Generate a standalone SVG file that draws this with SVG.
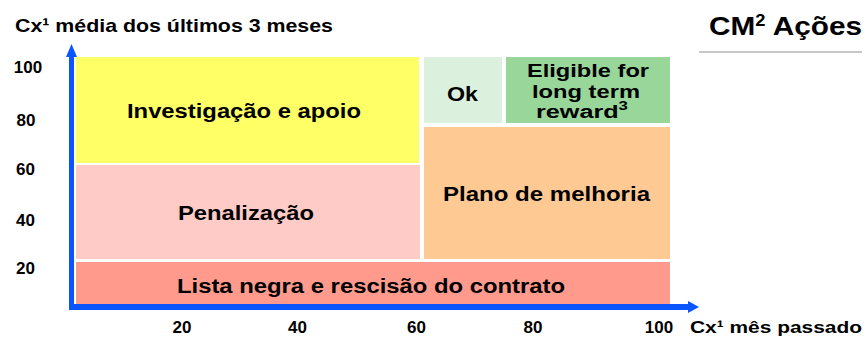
<svg xmlns="http://www.w3.org/2000/svg" width="867" height="338" viewBox="0 0 867 338">
  <style>
    text { font-family: "Liberation Sans", Arial, sans-serif; font-weight: bold; fill: #000; }
    .lbl { font-size: 20px; text-anchor: middle; }
    .elig { font-size: 18px; text-anchor: middle; }
    .tick { font-size: 17px; text-anchor: middle; }
    .axis { fill: #0a55ff; }
  </style>
  <rect width="867" height="338" fill="#fff"/>

  <text x="15" y="32" font-size="18.5" textLength="318" lengthAdjust="spacingAndGlyphs">Cx¹ média dos últimos 3 meses</text>
  <text x="709" y="35" font-size="26" textLength="153" lengthAdjust="spacingAndGlyphs">CM<tspan font-size="16" dy="-9">2</tspan><tspan dy="9"> Ações</tspan></text>
  <line x1="699" y1="52" x2="862" y2="52" stroke="#c8c8c8" stroke-width="2"/>

  <g id="zone-investigacao">
    <rect x="76" y="57" width="343" height="106" fill="#ffff66"/>
    <text class="lbl" x="244" y="118" textLength="234" lengthAdjust="spacingAndGlyphs">Investigação e apoio</text>
  </g>
  <g id="zone-penalizacao">
    <rect x="76" y="165" width="344" height="94" fill="#ffcbc6"/>
    <text class="lbl" x="246" y="220" textLength="136" lengthAdjust="spacingAndGlyphs">Penalização</text>
  </g>
  <g id="zone-lista-negra">
    <rect x="76" y="262" width="594" height="42" fill="#ff9a8c"/>
    <text class="lbl" x="371" y="293" font-size="22" textLength="388" lengthAdjust="spacingAndGlyphs">Lista negra e rescisão do contrato</text>
  </g>
  <g id="zone-ok">
    <rect x="424" y="57" width="78" height="66" fill="#dbf0dd"/>
    <text class="lbl" x="462.5" y="100.5" font-size="21" textLength="31" lengthAdjust="spacingAndGlyphs">Ok</text>
  </g>
  <g id="zone-eligible">
    <rect x="506" y="57" width="164" height="66" fill="#99d699"/>
    <text class="elig" x="588" y="77" textLength="122" lengthAdjust="spacingAndGlyphs">Eligible for</text>
    <text class="elig" x="586" y="97.5" textLength="108" lengthAdjust="spacingAndGlyphs">long term</text>
    <text class="elig" x="582" y="118" textLength="92" lengthAdjust="spacingAndGlyphs">reward<tspan font-size="12" dy="-8">3</tspan></text>
  </g>
  <g id="zone-plano">
    <rect x="424" y="127" width="246" height="132" fill="#ffc993"/>
    <text class="lbl" x="546.5" y="201" textLength="207" lengthAdjust="spacingAndGlyphs">Plano de melhoria</text>
  </g>

  <g id="axes">
    <rect class="axis" x="69" y="54" width="5" height="256"/>
    <polygon class="axis" points="66,57 71.5,44 77,57"/>
    <rect class="axis" x="69" y="304" width="620" height="6"/>
    <polygon class="axis" points="688,301 699,307 688,313"/>
  </g>

  <g id="y-ticks">
    <text class="tick" x="28" y="72.5">100</text>
    <text class="tick" x="26" y="126">80</text>
    <text class="tick" x="25.5" y="175">60</text>
    <text class="tick" x="25.5" y="225.5">40</text>
    <text class="tick" x="25.5" y="274">20</text>
  </g>
  <g id="x-ticks">
    <text class="tick" x="182" y="333">20</text>
    <text class="tick" x="297.5" y="333">40</text>
    <text class="tick" x="416.5" y="333">60</text>
    <text class="tick" x="533" y="333">80</text>
    <text class="tick" x="659" y="333">100</text>
    <text x="690" y="333" font-size="17" textLength="172" lengthAdjust="spacingAndGlyphs">Cx¹ mês passado</text>
  </g>
</svg>
